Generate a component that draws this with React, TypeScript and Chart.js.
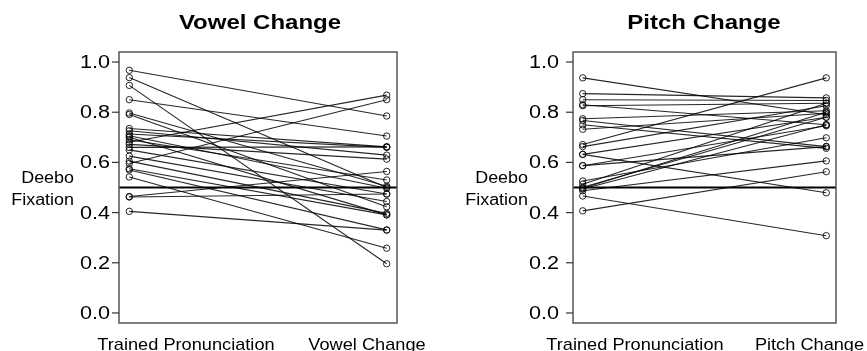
import React, { useEffect, useRef } from "react";
import { Chart, registerables } from "chart.js";

Chart.register(...registerables);

// ---- data ----
const TICK_VALUES = [0, 0.2, 0.4, 0.6, 0.8, 1.0];
const TICK_LABELS = ["0.0", "0.2", "0.4", "0.6", "0.8", "1.0"];
const Y_LABEL = ["Deebo", "Fixation"];
const THRESHOLD = 0.5;

const VOWEL_TITLE = "Vowel Change";
const VOWEL_GROUPS = ["Trained Pronunciation", "Vowel Change"];
const vowelTrained = [0.967, 0.938, 0.907, 0.85, 0.797, 0.791, 0.735, 0.726, 0.713, 0.706, 0.7, 0.68, 0.672, 0.66, 0.65, 0.69, 0.625, 0.605, 0.596, 0.575, 0.57, 0.542, 0.464, 0.462, 0.405];
const vowelChanged = [0.785, 0.5, 0.196, 0.705, 0.505, 0.423, 0.662, 0.629, 0.66, 0.497, 0.391, 0.868, 0.613, 0.662, 0.474, 0.53, 0.444, 0.397, 0.85, 0.391, 0.331, 0.258, 0.564, 0.474, 0.33];

const PITCH_TITLE = "Pitch Change";
const PITCH_GROUPS = ["Trained Pronunciation", "Pitch Change"];
const pitchTrained = [0.937, 0.874, 0.85, 0.83, 0.826, 0.774, 0.767, 0.75, 0.732, 0.671, 0.663, 0.632, 0.632, 0.587, 0.587, 0.526, 0.513, 0.501, 0.494, 0.487, 0.466, 0.407, 0.497];
const pitchChanged = [0.79, 0.857, 0.847, 0.75, 0.836, 0.806, 0.663, 0.656, 0.796, 0.937, 0.826, 0.78, 0.479, 0.746, 0.663, 0.698, 0.836, 0.78, 0.75, 0.606, 0.308, 0.563, 0.8];

const FONT = "'Liberation Sans', Arial, Helvetica, sans-serif";

type Panel = {
  title: string;
  groups: string[];
  trained: number[];
  changed: number[];
  left: number;
  padding: { left: number; right: number; top: number; bottom: number };
  titleX: number;
  yLabelRight: number;
  tickLabelGap: number;
  groupX: number[];
};

const PANELS: Panel[] = [
  {
    title: VOWEL_TITLE,
    groups: VOWEL_GROUPS,
    trained: vowelTrained,
    changed: vowelChanged,
    left: 0,
    padding: { left: 119, right: 36, top: 52, bottom: 28 },
    titleX: 260,
    yLabelRight: 74,
    tickLabelGap: 9,
    groupX: [186, 367],
  },
  {
    title: PITCH_TITLE,
    groups: PITCH_GROUPS,
    trained: pitchTrained,
    changed: pitchChanged,
    left: 434,
    padding: { left: 139, right: 31, top: 52, bottom: 28 },
    titleX: 270,
    yLabelRight: 94,
    tickLabelGap: 14,
    groupX: [201, 375.5],
  },
];

function stretchedText(
  ctx: CanvasRenderingContext2D,
  text: string,
  x: number,
  y: number,
  font: string,
  sx: number,
  align: CanvasTextAlign,
  baseline: CanvasTextBaseline
) {
  ctx.save();
  ctx.translate(x, y);
  ctx.scale(sx, 1);
  ctx.font = font;
  ctx.fillStyle = "#000";
  ctx.textAlign = align;
  ctx.textBaseline = baseline;
  ctx.fillText(text, 0, 0);
  ctx.restore();
}

function PanelChart({ panel }: { panel: Panel }) {
  const ref = useRef<HTMLCanvasElement | null>(null);
  useEffect(() => {
    const canvas = ref.current;
    if (!canvas) return;
    const datasets: any[] = panel.trained.map((t, i) => ({
      data: [
        { x: 1, y: t },
        { x: 2, y: panel.changed[i] },
      ],
      borderColor: "rgba(0,0,0,0.85)",
      borderWidth: 1.1,
      pointRadius: 3.2,
      pointBorderWidth: 1,
      pointBackgroundColor: "rgba(0,0,0,0)",
      pointBorderColor: "rgba(0,0,0,0.85)",
      fill: false,
      tension: 0,
    }));
    datasets.push({
      data: [
        { x: 0.96, y: THRESHOLD },
        { x: 2.04, y: THRESHOLD },
      ],
      borderColor: "#000",
      borderWidth: 2,
      pointRadius: 0,
      fill: false,
    });

    const deco = {
      id: "deco",
      afterDraw(chart: any) {
        const ctx: CanvasRenderingContext2D = chart.ctx;
        const a = chart.chartArea;
        const y = chart.scales.y;
        ctx.save();
        ctx.strokeStyle = "#555";
        ctx.lineWidth = 1.5;
        ctx.strokeRect(a.left, a.top, a.right - a.left, a.bottom - a.top);
        ctx.strokeStyle = "#333";
        ctx.lineWidth = 1.2;
        TICK_VALUES.forEach((v) => {
          const py = y.getPixelForValue(v);
          ctx.beginPath();
          ctx.moveTo(a.left - 7, py);
          ctx.lineTo(a.left, py);
          ctx.stroke();
        });
        ctx.restore();
        TICK_VALUES.forEach((v, i) => {
          const py = y.getPixelForValue(v);
          stretchedText(ctx, TICK_LABELS[i], a.left - panel.tickLabelGap, py + 1, `18px ${FONT}`, 1.2, "right", "middle");
        });
        stretchedText(ctx, panel.title, panel.titleX, 29, `bold 20px ${FONT}`, 1.2, "center", "alphabetic");
        stretchedText(ctx, Y_LABEL[0], panel.yLabelRight, 183, `16px ${FONT}`, 1.12, "right", "alphabetic");
        stretchedText(ctx, Y_LABEL[1], panel.yLabelRight, 205, `16px ${FONT}`, 1.12, "right", "alphabetic");
        panel.groups.forEach((g, i) => {
          stretchedText(ctx, g, panel.groupX[i], 350, `17px ${FONT}`, 1.07, "center", "alphabetic");
        });
      },
    };

    const chart = new Chart(canvas, {
      type: "line",
      data: { datasets },
      options: {
        animation: false,
        responsive: false,
        events: [],
        layout: { padding: panel.padding },
        scales: {
          x: { type: "linear", min: 0.96, max: 2.04, display: false },
          y: { type: "linear", min: -0.04, max: 1.04, display: false },
        },
        plugins: { legend: { display: false }, tooltip: { enabled: false } },
      },
      plugins: [deco],
    } as any);
    return () => chart.destroy();
  }, [panel]);
  return (
    <canvas
      ref={ref}
      width={433}
      height={351}
      style={{ position: "absolute", left: panel.left, top: 0, width: 433, height: 351, display: "block" }}
    />
  );
}

export default function App() {
  return (
    <div style={{ position: "fixed", left: 0, top: 0, width: 867, height: 351, background: "#fff", overflow: "hidden" }}>
      {PANELS.map((p) => (
        <PanelChart key={p.title} panel={p} />
      ))}
    </div>
  );
}
